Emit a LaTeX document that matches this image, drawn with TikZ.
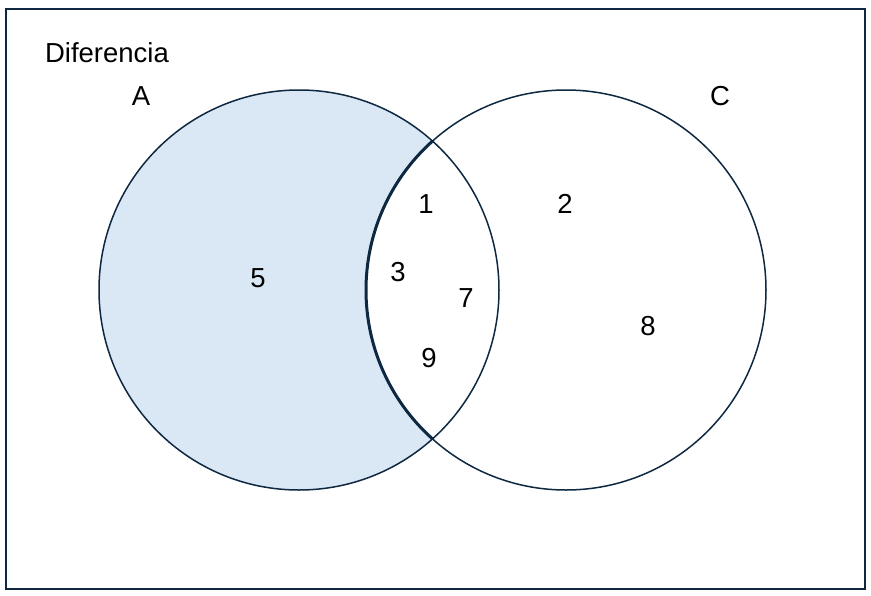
\documentclass[tikz,border=0pt]{standalone}
\usepackage{fontspec}
\setmainfont{Liberation Sans}
\definecolor{navy}{HTML}{0E2841}
\definecolor{setfill}{HTML}{DAE8F6}
\tikzset{
  lbl/.style={font=\fontsize{27.5}{32}\selectfont, text=black, inner sep=0pt},
  setline/.style={draw=navy, line width=1.5},
}
\begin{document}
\begin{tikzpicture}[x=1pt,y=-1pt]
\useasboundingbox (0,0) rectangle (871,595);
\coordinate (cA) at (299,290);
\coordinate (cC) at (566,290);
\draw[setline] (6,9) rectangle (865,589);
\fill[setfill] (cA) circle[radius=200];
\fill[white] (cC) circle[radius=200];
\draw[setline] (cA) circle[radius=200];
\draw[setline] (cC) circle[radius=200];
\begin{scope}
  \clip (cA) circle[radius=200];
  \draw[navy, line width=3] (cC) circle[radius=200];
\end{scope}
\node[lbl] (tit) at (107,53) {Diferencia};
\node[lbl] (lA) at (141,96) {A};
\node[lbl] (lC) at (720,96) {C};
\node[lbl] (n1) at (426,204) {1};
\node[lbl] (n2) at (565,204) {2};
\node[lbl] (n3) at (398,272) {3};
\node[lbl] (n5) at (258,278) {5};
\node[lbl] (n7) at (466,298) {7};
\node[lbl] (n8) at (648,326) {8};
\node[lbl] (n9) at (429,358) {9};
\end{tikzpicture}
\end{document}
